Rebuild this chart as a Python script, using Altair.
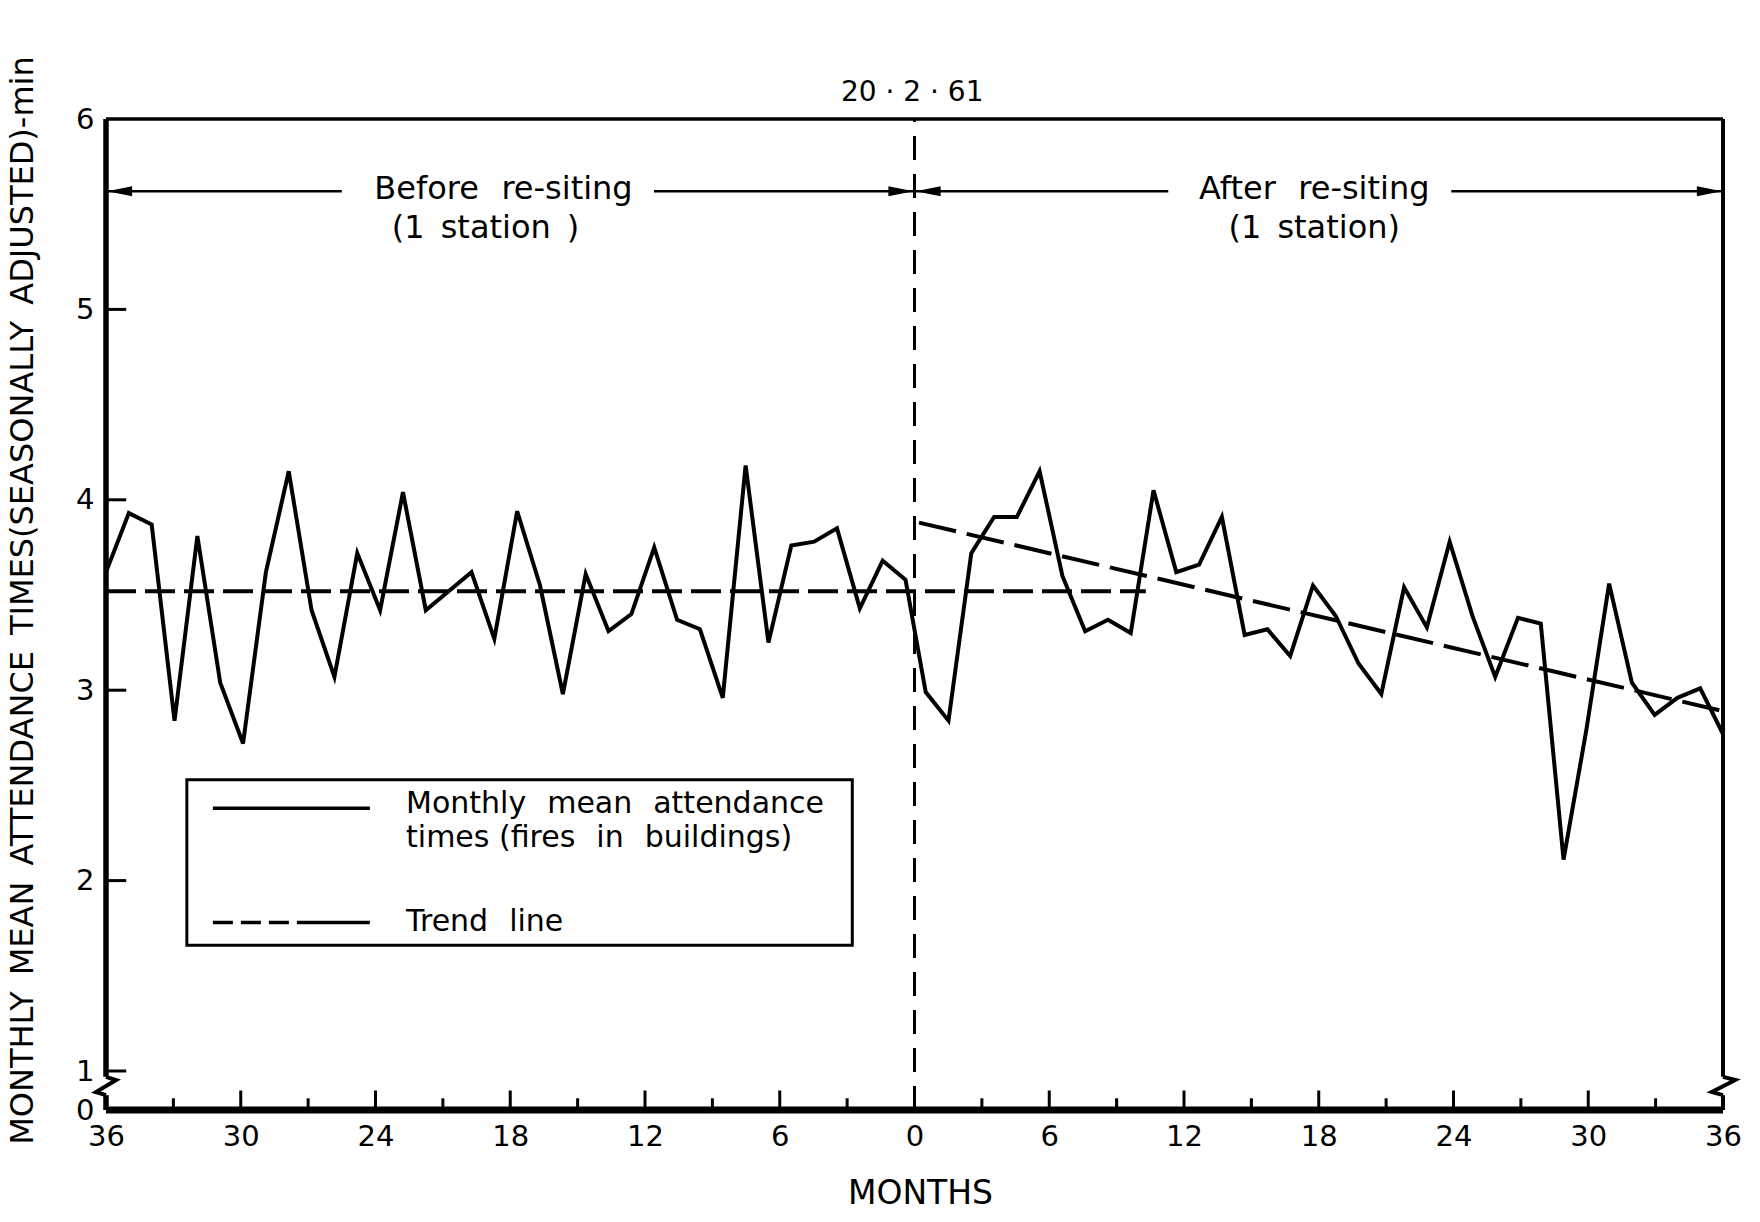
import altair as alt
import numpy as np
import pandas as pd

# ---------------- data ----------------
before_values = [3.62, 3.93, 3.87, 2.84, 3.81, 3.04, 2.72, 3.62, 4.15, 3.42,
                 3.07, 3.72, 3.42, 4.04, 3.42, 3.52, 3.62, 3.27, 3.94, 3.55,
                 2.98, 3.61, 3.31, 3.40, 3.75, 3.37, 3.32, 2.96, 4.18, 3.25,
                 3.76, 3.78, 3.85, 3.43, 3.68, 3.58]
after_values = [2.99, 2.84, 3.72, 3.91, 3.91, 4.15, 3.60, 3.31, 3.37, 3.30,
                4.05, 3.62, 3.66, 3.91, 3.29, 3.32, 3.18, 3.55, 3.39, 3.14,
                2.98, 3.54, 3.33, 3.78, 3.39, 3.07, 3.38, 3.35, 2.11, 2.79,
                3.56, 3.04, 2.87, 2.96, 3.01, 2.77]
before_months = list(np.round(np.linspace(-36, -0.4, 36), 3))
after_months = list(np.round(np.linspace(0.5, 36, 36), 3))

trend_before_x = [-36, 10.3]
trend_before_y = [3.52, 3.52]
trend_after_x = [0.2, 36]
trend_after_y = [3.88, 2.89]

x_tick_values = list(range(-36, 37, 6))
x_minor_ticks = list(range(-33, 34, 6))
x_major_ticks = list(range(-30, 31, 6))
y_tick_values = [0, 1, 2, 3, 4, 5, 6]
y_inner_ticks = [1, 2, 3, 4, 5]

W, H = 1617, 991
FONT = "DejaVu Sans"
EN = "\u2002"
SP = "\u2002\u2009"

xs = alt.Scale(domain=[-36, 36], nice=False, zero=False)
ys = alt.Scale(domain=[0, 1, 6], range=[H, H - 39, 0], nice=False, zero=False)

x_axis = alt.Axis(values=x_tick_values, labelExpr="abs(datum.value)", title="MONTHS",
                  grid=False, domain=False, ticks=False, labelFont=FONT, labelFontSize=29,
                  labelColor="black", labelPadding=12, labelFlush=False,
                  titleFont=FONT, titleFontSize=33, titleFontWeight="normal", titleColor="black",
                  titleY=83, titleX=814, titleBaseline="middle", titleAlign="center")
y_axis = alt.Axis(values=y_tick_values,
                  title=f"MONTHLY{EN}MEAN{EN}ATTENDANCE{EN}TIMES(SEASONALLY{EN}ADJUSTED)-min",
                  grid=False, domain=False, ticks=False, labelFont=FONT, labelFontSize=29,
                  labelColor="black", labelPadding=12, labelFlush=False,
                  titleFont=FONT, titleFontSize=32, titleFontWeight="normal", titleColor="black",
                  titleAngle=270, titleX=-84, titleY=481, titleBaseline="middle", titleAlign="center")


def X(f="x"):
    return alt.X(f"{f}:Q", scale=xs, axis=x_axis)


def Y(f="y"):
    return alt.Y(f"{f}:Q", scale=ys, axis=y_axis)


# ---------------- tables ----------------
series = pd.DataFrame({"x": before_months + after_months, "y": before_values + after_values})
tb = pd.DataFrame({"x": trend_before_x, "y": trend_before_y})
ta = pd.DataFrame({"x": trend_after_x, "y": trend_after_y})

hrules = pd.DataFrame(
    [dict(x=-36, x2=36, y=6, w=3.5), dict(x=-36, x2=36, y=0, w=7)]
    + [dict(x=-36, x2=-35.1, y=v, w=3) for v in y_inner_ticks]
    + [dict(x=-36, x2=-25.5, y=5.62, w=2.5), dict(x=-11.6, x2=0, y=5.62, w=2.5),
       dict(x=0, x2=11.3, y=5.62, w=2.5), dict(x=23.9, x2=36, y=5.62, w=2.5)]
)
vrules = pd.DataFrame(
    [dict(x=-36, y=0.85, y2=6, w=5.5), dict(x=-36, y=0, y2=0.38, w=5.5),
     dict(x=36, y=0.85, y2=6, w=4), dict(x=36, y=0, y2=0.38, w=4)]
    + [dict(x=m, y=0, y2=0.5, w=3) for m in x_major_ticks]
    + [dict(x=m, y=0, y2=0.3, w=3) for m in x_minor_ticks]
)
squig = pd.DataFrame(
    [dict(x=-36, y=0.85, s="L", o=0), dict(x=-35.55, y=0.77, s="L", o=1),
     dict(x=-36.45, y=0.46, s="L", o=2), dict(x=-36, y=0.38, s="L", o=3),
     dict(x=36, y=0.85, s="R", o=0), dict(x=36.55, y=0.77, s="R", o=1),
     dict(x=35.5, y=0.46, s="R", o=2), dict(x=36, y=0.38, s="R", o=3)]
)
arrow_left = pd.DataFrame({"x": [-35.95, 0.05], "y": [5.62, 5.62]})
arrow_right = pd.DataFrame({"x": [-0.05, 35.95], "y": [5.62, 5.62]})

labels = pd.DataFrame([
    dict(x=-18.3, y=5.63, t=f"Before{SP}re-siting"),
    dict(x=-19.1, y=5.43, t=f"(1{EN}station{EN})"),
    dict(x=17.8, y=5.63, t=f"After{SP}re-siting"),
    dict(x=17.8, y=5.43, t=f"(1{EN}station)"),
])
date_label = pd.DataFrame([dict(x=-0.1, y=6, t="20 · 2 · 61")])

legend_box = pd.DataFrame([dict(x=-32.4, x2=-2.77, y=1.66, y2=2.53)])
legend_solid = pd.DataFrame([dict(x=-31.24, x2=-24.25, y=2.38)])
legend_dash = pd.DataFrame([dict(x=-31.24, x2=-24.25, y=1.78)])
legend_text = pd.DataFrame([
    dict(x=-22.64, y=2.40, t=f"Monthly{SP}mean{SP}attendance"),
    dict(x=-22.64, y=2.225, t=f"times (fires{SP}in{SP}buildings)"),
    dict(x=-22.64, y=1.78, t=f"Trend{SP}line"),
])

# ---------------- layers ----------------
vline = alt.Chart(pd.DataFrame([dict(x=0, y=0, y2=6)])).mark_rule(
    color="black", strokeWidth=3, strokeDash=[24, 14]).encode(x=X(), y=Y(), y2=alt.Y2("y2:Q"))

data_line = alt.Chart(series).mark_line(color="black", strokeWidth=4).encode(x=X(), y=Y())
trend_b = alt.Chart(tb).mark_line(color="black", strokeWidth=4, strokeDash=[30, 9]).encode(x=X(), y=Y())
trend_a = alt.Chart(ta).mark_line(color="black", strokeWidth=4, strokeDash=[38, 11]).encode(x=X(), y=Y())

h_layer = alt.Chart(hrules).mark_rule(color="black").encode(
    x=X(), x2=alt.X2("x2:Q"), y=Y(), strokeWidth=alt.StrokeWidth("w:Q", scale=None))
v_layer = alt.Chart(vrules).mark_rule(color="black").encode(
    x=X(), y=Y(), y2=alt.Y2("y2:Q"), strokeWidth=alt.StrokeWidth("w:Q", scale=None))
sq_layer = alt.Chart(squig).mark_line(color="black", strokeWidth=4).encode(
    x=X(), y=Y(), detail="s:N", order="o:Q")

al = alt.Chart(arrow_left).mark_point(shape="M0,0L2,-0.4L2,0.4Z", filled=True, size=625,
                                      color="black", opacity=1).encode(x=X(), y=Y())
ar = alt.Chart(arrow_right).mark_point(shape="M0,0L-2,-0.4L-2,0.4Z", filled=True, size=625,
                                       color="black", opacity=1).encode(x=X(), y=Y())

txt = alt.Chart(labels).mark_text(font=FONT, fontSize=32, color="black", align="center",
                                  baseline="middle").encode(x=X(), y=Y(), text="t:N")
date_txt = alt.Chart(date_label).mark_text(font=FONT, fontSize=28, color="black", align="center",
                                           baseline="middle", dy=-26).encode(x=X(), y=Y(), text="t:N")

lg_box = alt.Chart(legend_box).mark_rect(fill="white", stroke="black", strokeWidth=3).encode(
    x=X(), x2=alt.X2("x2:Q"), y=Y(), y2=alt.Y2("y2:Q"))
lg_solid = alt.Chart(legend_solid).mark_rule(color="black", strokeWidth=3.5).encode(
    x=X(), x2=alt.X2("x2:Q"), y=Y())
lg_dash = alt.Chart(legend_dash).mark_rule(color="black", strokeWidth=3.5,
                                           strokeDash=[20, 8, 20, 8, 20, 8, 90, 0]).encode(
    x=X(), x2=alt.X2("x2:Q"), y=Y())
lg_text = alt.Chart(legend_text).mark_text(font=FONT, fontSize=30, color="black", align="left",
                                           baseline="middle").encode(x=X(), y=Y(), text="t:N")

chart = alt.layer(
    vline, trend_b, trend_a, data_line, h_layer, v_layer, sq_layer, al, ar, txt, date_txt,
    lg_box, lg_solid, lg_dash, lg_text
).properties(
    width=W, height=H,
    autosize=alt.AutoSizeParams(type="none"),
    padding={"left": 106, "top": 119, "right": 37, "bottom": 112},
    background="white",
).configure_view(stroke=None)

chart.save("out.html", embed_options={"renderer": "svg", "actions": False})
